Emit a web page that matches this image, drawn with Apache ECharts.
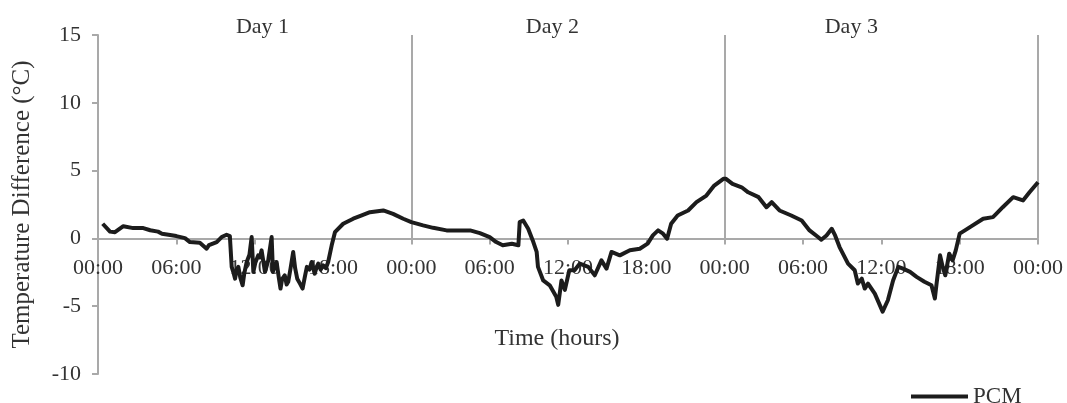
<!DOCTYPE html>
<html>
<head>
<meta charset="utf-8">
<script src="https://cdn.jsdelivr.net/npm/echarts@6/dist/echarts.min.js"></script>
<style>
html,body{margin:0;padding:0;background:#fff;}
#chart{width:1067px;height:403px;}
</style>
</head>
<body>
<div id="chart"></div>
<script>
// Time in hours from start of Day 1
const hours = [0.36,0.92,1.3,1.94,2.7,3.47,4.0,4.6,4.9,5.4,6.0,6.66,7.04,7.8,8.32,8.5,9.09,9.47,9.85,10.1,
  10.24,10.4,10.5,10.62,10.75,10.9,11.08,11.2,11.39,11.6,11.77,11.9,12.05,12.27,12.4,12.53,12.79,13.04,13.3,13.4,
  13.55,13.68,13.85,13.98,14.1,14.3,14.45,14.57,14.75,14.95,15.1,15.26,15.45,15.67,15.85,
  16.0,16.2,16.36,16.6,16.75,16.87,17.05,17.25,17.45,17.63,17.9,18.15,18.78,19.55,20.2,20.83,21.85,22.6,23.38,24.0,24.9,25.67,26.7,27.72,
  28.5,29.25,30.0,30.5,31.0,31.7,32.2,32.3,32.57,32.95,33.3,33.6,33.7,34.1,34.6,35.1,35.25,35.5,35.76,36.1,
  36.5,36.9,37.55,38.05,38.56,38.95,39.33,39.97,40.74,41.5,42.1,42.5,42.9,43.28,43.59,43.9,44.4,45.2,45.84,46.6,
  47.2,47.9,48.1,48.6,49.3,49.8,50.6,51.2,51.6,52.2,53.1,53.9,54.5,55.15,55.4,55.8,56.2,56.46,56.8,57.45,
  57.96,58.2,58.5,58.73,58.98,59.5,59.6,60.1,60.5,60.9,61.3,61.66,62.2,62.7,63.3,63.84,64.1,64.2,64.5,64.7,
  64.9,65.2,65.46,65.7,66.0,66.4,67.0,67.8,68.55,68.8,69.3,70.1,70.85,71.35,72.0];
// PCM temperature difference (°C)
const pcm = [1.08,0.5,0.46,0.9,0.76,0.76,0.6,0.5,0.35,0.27,0.17,0.02,-0.27,-0.32,-0.76,-0.5,-0.27,0.1,0.27,0.17,
  -2.1,-2.6,-2.97,-2.3,-2.1,-2.9,-3.46,-2.6,-1.74,-1.2,0.1,-2.47,-1.8,-1.25,-1.4,-0.88,-2.47,-1.62,0.1,-2.47,
  -2.0,-1.74,-2.9,-3.7,-3.0,-2.72,-3.4,-3.2,-2.2,-1.0,-2.2,-2.97,-3.3,-3.7,-2.8,
  -2.1,-2.3,-1.74,-2.6,-2.1,-1.86,-2.3,-1.99,-2.2,-1.74,-0.51,0.46,1.08,1.45,1.69,1.93,2.06,1.81,1.45,1.2,0.96,0.78,0.59,0.59,
  0.59,0.39,0.1,-0.27,-0.51,-0.39,-0.51,1.2,1.32,0.71,-0.15,-1.0,-2.1,-3.1,-3.46,-4.3,-4.9,-3.1,-3.8,-2.35,
  -2.35,-1.86,-2.1,-2.72,-1.62,-2.23,-1.0,-1.25,-0.88,-0.76,-0.39,0.22,0.59,0.35,-0.02,1.08,1.69,2.06,2.67,3.16,
  3.9,4.39,4.39,4.02,3.77,3.4,3.04,2.3,2.67,2.06,1.69,1.32,0.59,0.1,-0.1,0.22,0.71,0.22,-0.64,-1.86,
  -2.35,-3.33,-2.97,-3.7,-3.33,-4.07,-4.2,-5.4,-4.56,-3.1,-2.1,-2.23,-2.47,-2.84,-3.2,-3.46,-4.43,-3.58,-1.25,-2.1,
  -2.72,-1.13,-1.62,-0.88,0.35,0.59,0.96,1.45,1.57,1.81,2.3,3.04,2.8,3.4,4.14];
const dayLabels = ['Day 1','Day 2','Day 3'];
const dayLabelHours = [12.6, 34.8, 57.7];
const dayBoundaries = [24, 48, 72];
const yTicks = [-10, -5, 0, 5, 10, 15];
const xTickHours = [0, 6, 12, 18, 24, 30, 36, 42, 48, 54, 60, 66, 72];

const FONT = 'Liberation Serif';
const TXT = '#333';
const AX = '#a9a9a9';

const GRID_TOP = 35, GRID_BOTTOM = 29, H = 403;
const plotH = H - GRID_TOP - GRID_BOTTOM;
const yMin = yTicks[0], yMax = yTicks[yTicks.length - 1];
// shift x axis up so it sits on the zero line
const zeroOffset = -plotH * (0 - yMin) / (yMax - yMin);

const chart = echarts.init(document.getElementById('chart'), null, {renderer: 'canvas'});
const data = hours.map((h, i) => [h, pcm[i]]);

chart.setOption({
  animation: false,
  backgroundColor: '#fff',
  textStyle: {fontFamily: FONT},
  grid: {left: 98, right: 29, top: GRID_TOP, bottom: GRID_BOTTOM, containLabel: false, outerBoundsMode: 'none'},
  legend: {
    data: [{name: 'PCM', icon: 'rect'}],
    left: 906, top: 380,
    itemWidth: 57, itemHeight: 4, itemGap: 4,
    textStyle: {fontFamily: FONT, fontSize: 23, color: TXT}
  },
  xAxis: {
    type: 'value', min: xTickHours[0], max: xTickHours[xTickHours.length - 1], interval: 6,
    position: 'bottom', offset: zeroOffset,
    name: 'Time (hours)', nameLocation: 'middle', nameGap: 88,
    nameTextStyle: {fontFamily: FONT, fontSize: 24, color: TXT, padding: [0, 22, 0, 0]},
    axisLine: {show: true, onZero: false, lineStyle: {color: AX, width: 2}},
    axisTick: {show: true, length: 6, inside: false, lineStyle: {color: AX, width: 2}},
    axisLabel: {
      fontFamily: FONT, fontSize: 22, color: TXT, margin: 19, showMinLabel: true, showMaxLabel: true,
      formatter: v => String(v % 24).padStart(2, '0') + ':00'
    },
    splitLine: {show: false}
  },
  yAxis: {
    type: 'value', min: yMin, max: yMax, interval: 5,
    name: 'Temperature Difference (°C)', nameLocation: 'middle', nameGap: 63, nameRotate: 90,
    nameTextStyle: {fontFamily: FONT, fontSize: 25, color: TXT},
    axisLine: {show: true, lineStyle: {color: AX, width: 2}},
    axisTick: {show: true, length: 6, lineStyle: {color: AX, width: 2}},
    axisLabel: {fontFamily: FONT, fontSize: 22, color: TXT, margin: 17},
    splitLine: {show: false}
  },
  series: [{
    name: 'PCM', type: 'line', data: data, showSymbol: false, symbol: 'none',
    lineStyle: {color: '#1c1c1c', width: 4, join: 'round'},
    itemStyle: {color: '#1c1c1c'},
    z: 5,
    markLine: {
      silent: true, symbol: 'none', animation: false,
      lineStyle: {color: AX, width: 2, type: 'solid'},
      label: {show: false},
      data: dayBoundaries.map(h => [{coord: [h, yMax]}, {coord: [h, 0]}])
    },
    markPoint: {
      silent: true, symbol: 'circle', symbolSize: 1,
      itemStyle: {color: 'rgba(0,0,0,0)'},
      label: {show: true, position: 'top', distance: 2, offset: [0, 6], fontFamily: FONT, fontSize: 22, color: TXT,
        formatter: p => p.name},
      data: dayLabels.map((d, i) => ({name: d, coord: [dayLabelHours[i], yMax]}))
    }
  }]
});
</script>
</body>
</html>
